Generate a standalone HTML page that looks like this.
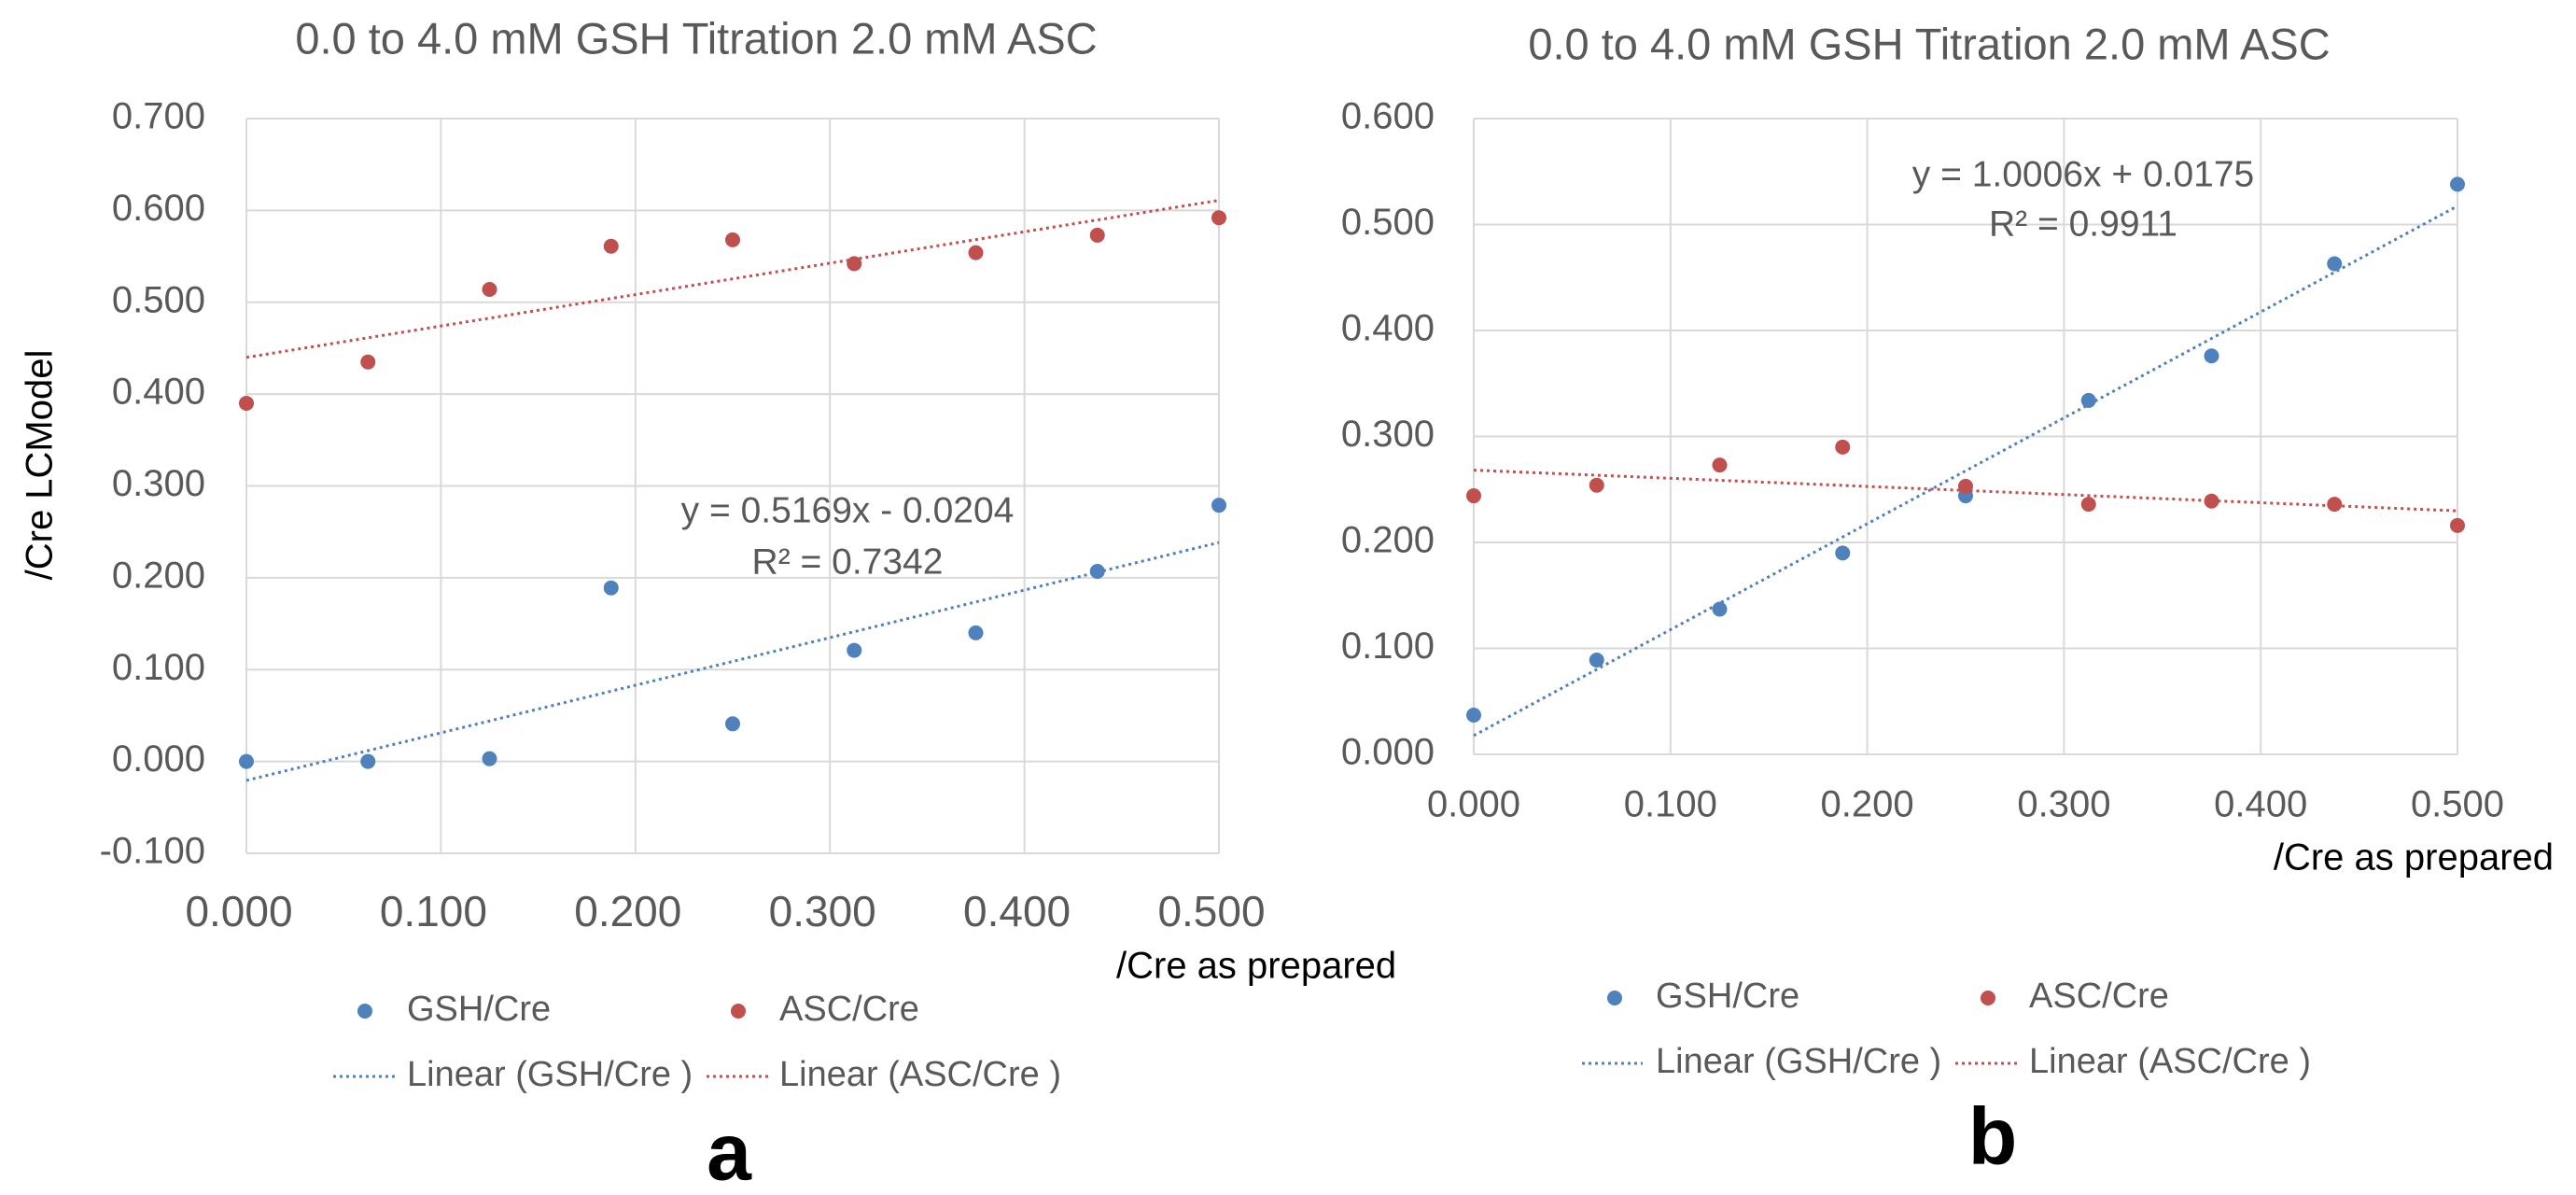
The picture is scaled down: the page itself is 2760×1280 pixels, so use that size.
<!DOCTYPE html>
<html><head><meta charset="utf-8"><style>
body{margin:0;background:#fff}
svg{display:block;font-family:"Liberation Sans",sans-serif}
</style></head><body>
<svg id="s" width="2760" height="1280" viewBox="0 0 2760 1280"></svg>
<script>
const xsA=[0,0.0625,0.125,0.1875,0.25,0.3125,0.375,0.4375,0.5];
const gshA=[0.000,0.000,0.003,0.189,0.041,0.121,0.140,0.207,0.279];
const ascA=[0.390,0.435,0.514,0.561,0.568,0.542,0.554,0.573,0.592];
const xsB=[0,0.0625,0.125,0.1875,0.25,0.3125,0.375,0.4375,0.5];
const gshB=[0.037,0.089,0.137,0.190,0.244,0.334,0.376,0.463,0.538];
const ascB=[0.244,0.254,0.273,0.290,0.253,0.236,0.239,0.236,0.216];
const xTicks=["0.000","0.100","0.200","0.300","0.400","0.500"];
const yTicksA=["-0.100","0.000","0.100","0.200","0.300","0.400","0.500","0.600","0.700"];
const yTicksB=["0.000","0.100","0.200","0.300","0.400","0.500","0.600"];
const NS="http://www.w3.org/2000/svg";
const svg=document.getElementById('s');
const BLUE="#4f81bd",RED="#c0504d",GRAY="#595959";
function mk(tag,attrs,parent,text){const e=document.createElementNS(NS,tag);for(const k in attrs)e.setAttribute(k,attrs[k]);if(text!==undefined)e.textContent=text;(parent||svg).appendChild(e);return e;}
function fit(xs,ys){const n=xs.length;let sx=0,sy=0,sxx=0,sxy=0;for(let i=0;i<n;i++){sx+=xs[i];sy+=ys[i];sxx+=xs[i]*xs[i];sxy+=xs[i]*ys[i];}const m=(n*sxy-sx*sy)/(n*sxx-sx*sx);return [m,(sy-m*sx)/n];}
function panel(o){
  const g=mk('g',{},svg);
  
  
  const X=v=>o.l+(v-0)/(0.5)*(o.r-o.l);
  const Y=v=>o.b-(v-o.ymin)/(o.ymax-o.ymin)*(o.b-o.t);
  const t=mk('text',{x:o.titleX,y:o.titleY,'font-size':47,fill:GRAY,'text-anchor':'middle','dominant-baseline':'middle'},g,"0.0 to 4.0 mM GSH Titration 2.0 mM ASC");
  
  
  o.yTicks.forEach(s=>{const v=parseFloat(s);const y=Y(v);
    const ln=mk('line',{x1:o.l,x2:o.r,y1:y,y2:y,stroke:'#d9d9d9','stroke-width':2},g);
    
    
    const tl=mk('text',{x:o.yLabX,y:y,'font-size':40,fill:GRAY,'text-anchor':'end','dominant-baseline':'middle'},g,s);
    
    
  });
  xTicks.forEach(s=>{const v=parseFloat(s);const x=X(v);
    const ln=mk('line',{x1:x,x2:x,y1:o.t,y2:o.b,stroke:'#d9d9d9','stroke-width':2},g);
    
    
    const tl=mk('text',{x:x+(o.xLabDx||0),y:o.xLabY,'font-size':o.xFont,fill:GRAY,'text-anchor':'middle','dominant-baseline':'middle'},g,s);
    
    
  });
  [[o.gsh,BLUE,'gsh'],[o.asc,RED,'asc']].forEach(([ys,c,n])=>{
    const [m,b]=fit(o.xs,ys);
    const tr=mk('line',{x1:X(0),y1:Y(b),x2:X(0.5),y2:Y(m*0.5+b),stroke:c,'stroke-width':3,'stroke-dasharray':'3 4'},g);
    
    
    ys.forEach((v,i)=>{const p=mk('circle',{cx:X(o.xs[i]),cy:Y(v),r:8,fill:c},g);
      
      });
  });
  const e1=mk('text',{x:o.eqX,y:o.eqY,'font-size':39,fill:GRAY,'text-anchor':'middle','dominant-baseline':'middle'},g,o.eq);
  
  
  const e2=mk('text',{x:o.eqX,y:o.r2Y,'font-size':39,fill:GRAY,'text-anchor':'middle','dominant-baseline':'middle'},g,o.r2);
  
  
  const xt=mk('text',{x:o.xtX,y:o.xtY,'font-size':40,fill:'#000','text-anchor':o.xtAnchor,'dominant-baseline':'middle'},g,"/Cre as prepared");
  
  
  const L=o.leg;
  const d1=mk('circle',{cx:L.d1,cy:L.r1,r:8,fill:BLUE},g);
  
  
  const t1=mk('text',{x:L.t1,y:L.r1,'font-size':38,fill:GRAY,'dominant-baseline':'middle'},g,"GSH/Cre");
  
  
  const d2=mk('circle',{cx:L.d2,cy:L.r1,r:8,fill:RED},g);
  
  
  const t2=mk('text',{x:L.t2,y:L.r1,'font-size':38,fill:GRAY,'dominant-baseline':'middle'},g,"ASC/Cre");
  
  
  const l1=mk('line',{x1:L.l1a,x2:L.l1b,y1:L.r2,y2:L.r2,stroke:BLUE,'stroke-width':3,'stroke-dasharray':'3 4'},g);
  
  
  const t3=mk('text',{x:L.t1,y:L.r2,'font-size':38,fill:GRAY,'dominant-baseline':'middle'},g,"Linear (GSH/Cre )");
  
  
  const l2=mk('line',{x1:L.l2a,x2:L.l2b,y1:L.r2,y2:L.r2,stroke:RED,'stroke-width':3,'stroke-dasharray':'3 4'},g);
  
  
  const t4=mk('text',{x:L.t2,y:L.r2,'font-size':38,fill:GRAY,'dominant-baseline':'middle'},g,"Linear (ASC/Cre )");
  
  
  const pl=mk('text',{x:o.labX,y:o.labY,'font-size':86,'font-weight':'bold',fill:'#000','text-anchor':'middle','dominant-baseline':'middle'},g,o.lab);
  
  
}
panel({name:'panel-a',l:264,r:1306,t:127,b:914,ymin:-0.1,ymax:0.7,xs:xsA,gsh:gshA,asc:ascA,yTicks:yTicksA,
  titleX:746,titleY:45,yLabX:220,xLabY:980,xFont:46,xLabDx:-8,
  eq:"y = 0.5169x - 0.0204",r2:"R² = 0.7342",eqX:908,eqY:549,r2Y:604,
  xtX:1196,xtY:1037,xtAnchor:'start',
  leg:{r1:1083,r2:1153,d1:391,t1:436,d2:791,t2:835,l1a:357,l1b:424,l2a:757,l2b:823},
  lab:'a',labX:781,labY:1241});
panel({name:'panel-b',l:1579,r:2633,t:127,b:808,ymin:0,ymax:0.6,xs:xsB,gsh:gshB,asc:ascB,yTicks:yTicksB,
  titleX:2067,titleY:51,yLabX:1537,xLabY:864,xFont:40,
  eq:"y = 1.0006x + 0.0175",r2:"R² = 0.9911",eqX:2232,eqY:189,r2Y:242,
  xtX:2736,xtY:921,xtAnchor:'end',
  leg:{r1:1069,r2:1139,d1:1730,t1:1774,d2:2130,t2:2174,l1a:1695,l1b:1760,l2a:2095,l2b:2162},
  lab:'b',labX:2135,labY:1224});
const yt=mk('text',{x:0,y:0,'font-size':40,fill:'#000','text-anchor':'middle','dominant-baseline':'middle',transform:'translate(45,498) rotate(-90)'},svg,"/Cre LCModel");


</script>
</body></html>
